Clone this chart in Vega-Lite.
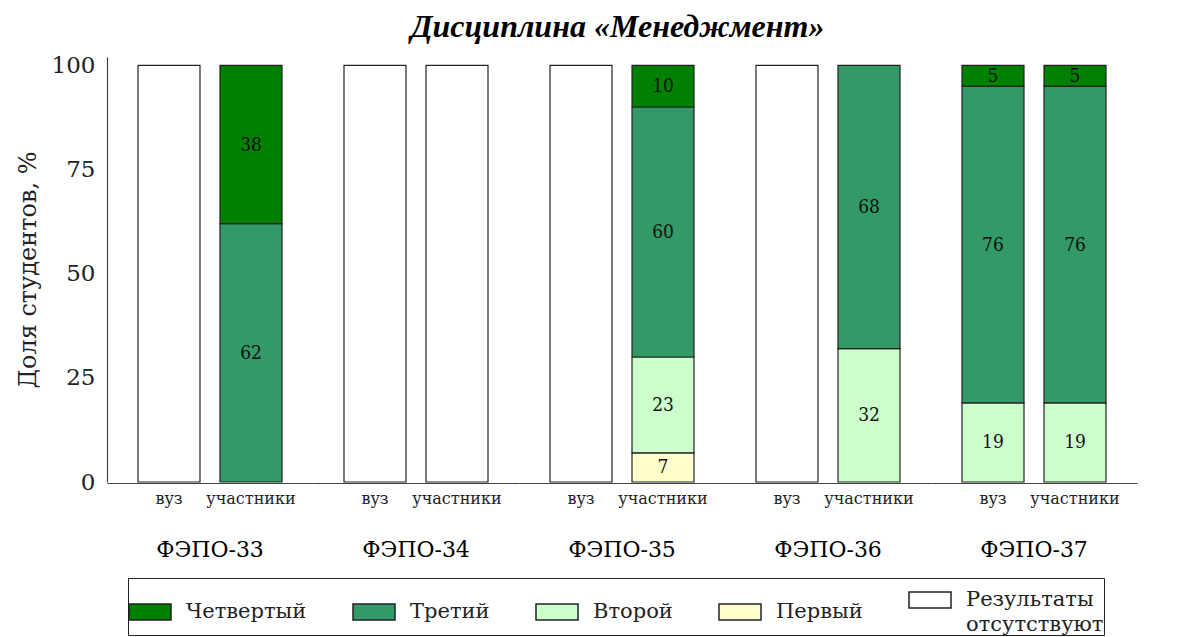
{
  "$schema": "https://vega.github.io/schema/vega-lite/v6.json",
  "background": "white",
  "padding": {"left": 16, "top": 11, "right": 5, "bottom": 0},
  "title": {"text": "Дисциплина «Менеджмент»", "font": "Liberation Serif", "fontStyle": "italic", "fontWeight": "bold", "fontSize": 32, "anchor": "middle", "color": "#000", "offset": 10, "dx": 41},
  "data": {"values": [
    {"group": "ФЭПО-33", "sub": "вуз", "level": "Результаты отсутствуют", "n": 0, "value": 100},
    {"group": "ФЭПО-33", "sub": "участники", "level": "Третий", "n": 3, "value": 62},
    {"group": "ФЭПО-33", "sub": "участники", "level": "Четвертый", "n": 4, "value": 38},
    {"group": "ФЭПО-34", "sub": "вуз", "level": "Результаты отсутствуют", "n": 0, "value": 100},
    {"group": "ФЭПО-34", "sub": "участники", "level": "Результаты отсутствуют", "n": 0, "value": 100},
    {"group": "ФЭПО-35", "sub": "вуз", "level": "Результаты отсутствуют", "n": 0, "value": 100},
    {"group": "ФЭПО-35", "sub": "участники", "level": "Первый", "n": 1, "value": 7},
    {"group": "ФЭПО-35", "sub": "участники", "level": "Второй", "n": 2, "value": 23},
    {"group": "ФЭПО-35", "sub": "участники", "level": "Третий", "n": 3, "value": 60},
    {"group": "ФЭПО-35", "sub": "участники", "level": "Четвертый", "n": 4, "value": 10},
    {"group": "ФЭПО-36", "sub": "вуз", "level": "Результаты отсутствуют", "n": 0, "value": 100},
    {"group": "ФЭПО-36", "sub": "участники", "level": "Второй", "n": 2, "value": 32},
    {"group": "ФЭПО-36", "sub": "участники", "level": "Третий", "n": 3, "value": 68},
    {"group": "ФЭПО-37", "sub": "вуз", "level": "Второй", "n": 2, "value": 19},
    {"group": "ФЭПО-37", "sub": "вуз", "level": "Третий", "n": 3, "value": 76},
    {"group": "ФЭПО-37", "sub": "вуз", "level": "Четвертый", "n": 4, "value": 5},
    {"group": "ФЭПО-37", "sub": "участники", "level": "Второй", "n": 2, "value": 19},
    {"group": "ФЭПО-37", "sub": "участники", "level": "Третий", "n": 3, "value": 76},
    {"group": "ФЭПО-37", "sub": "участники", "level": "Четвертый", "n": 4, "value": 5}
  ]},
  "facet": {"column": {"field": "group", "type": "nominal", "title": null,
    "header": {"title": null, "labelOrient": "bottom", "labelFont": "DejaVu Serif", "labelFontSize": 22, "labelColor": "#000", "labelPadding": 34}}},
  "spacing": 0,
  "spec": {
    "width": 206,
    "height": 425,
    "encoding": {
      "x": {"field": "sub", "type": "nominal", "sort": ["вуз", "участники"],
        "scale": {"paddingInner": 0.244, "paddingOuter": 0.378},
        "axis": {"title": null, "labelAngle": 0, "ticks": false, "labelFont": "DejaVu Serif", "labelFontSize": 16, "labelColor": "#222", "labelPadding": 7, "domainColor": "#444", "domainWidth": 1.2}}
    },
    "layer": [
      {
        "mark": {"type": "bar", "stroke": "#222", "strokeWidth": 1.2},
        "encoding": {
          "y": {"field": "value", "type": "quantitative", "stack": "zero",
            "scale": {"domain": [0, 102], "nice": false},
            "axis": {"title": "Доля студентов, %", "values": [0, 25, 50, 75, 100], "grid": false, "ticks": false,
              "labelFont": "DejaVu Serif", "labelFontSize": 23, "labelColor": "#222", "labelPadding": 12,
              "titleFont": "DejaVu Serif", "titleFontSize": 24, "titleFontWeight": "normal", "titleColor": "#222", "titlePadding": 11,
              "domainColor": "#444", "domainWidth": 1.2}},
          "order": {"field": "n", "type": "quantitative", "sort": "ascending"},
          "color": {"field": "level", "type": "nominal",
            "scale": {"domain": ["Четвертый", "Третий", "Второй", "Первый", "Результаты отсутствуют"],
              "range": ["#008000", "#339966", "#ccffcc", "#ffffcc", "#ffffff"]},
            "legend": {"title": null, "orient": "none", "legendX": 21, "legendY": 521, "direction": "horizontal",
              "strokeColor": "#222", "padding": 0,
              "labelFont": "DejaVu Serif", "labelFontSize": 21, "labelColor": "#222", "labelLimit": 300,
              "symbolType": "M-1,-0.38L1,-0.38L1,0.38L-1,0.38Z", "symbolSize": 1764,
              "symbolStrokeColor": "#222", "symbolStrokeWidth": 1.5, "symbolOpacity": 1,
              "labelOffset": 14, "columnPadding": 43,
              "labelExpr": "datum.label == 'Результаты отсутствуют' ? ['Результаты', 'отсутствуют'] : datum.label"}}
        }
      },
      {
        "transform": [{"filter": "datum.n > 0"}],
        "mark": {"type": "text", "font": "DejaVu Serif Condensed", "fontSize": 19, "color": "#111", "baseline": "middle"},
        "encoding": {
          "y": {"field": "value", "type": "quantitative", "stack": "zero", "bandPosition": 0.5},
          "order": {"field": "n", "type": "quantitative", "sort": "ascending"},
          "text": {"field": "value", "type": "quantitative"}
        }
      }
    ]
  },
  "config": {"view": {"stroke": null}, "style": {"guide-label": {"lineHeight": 25}}}
}
